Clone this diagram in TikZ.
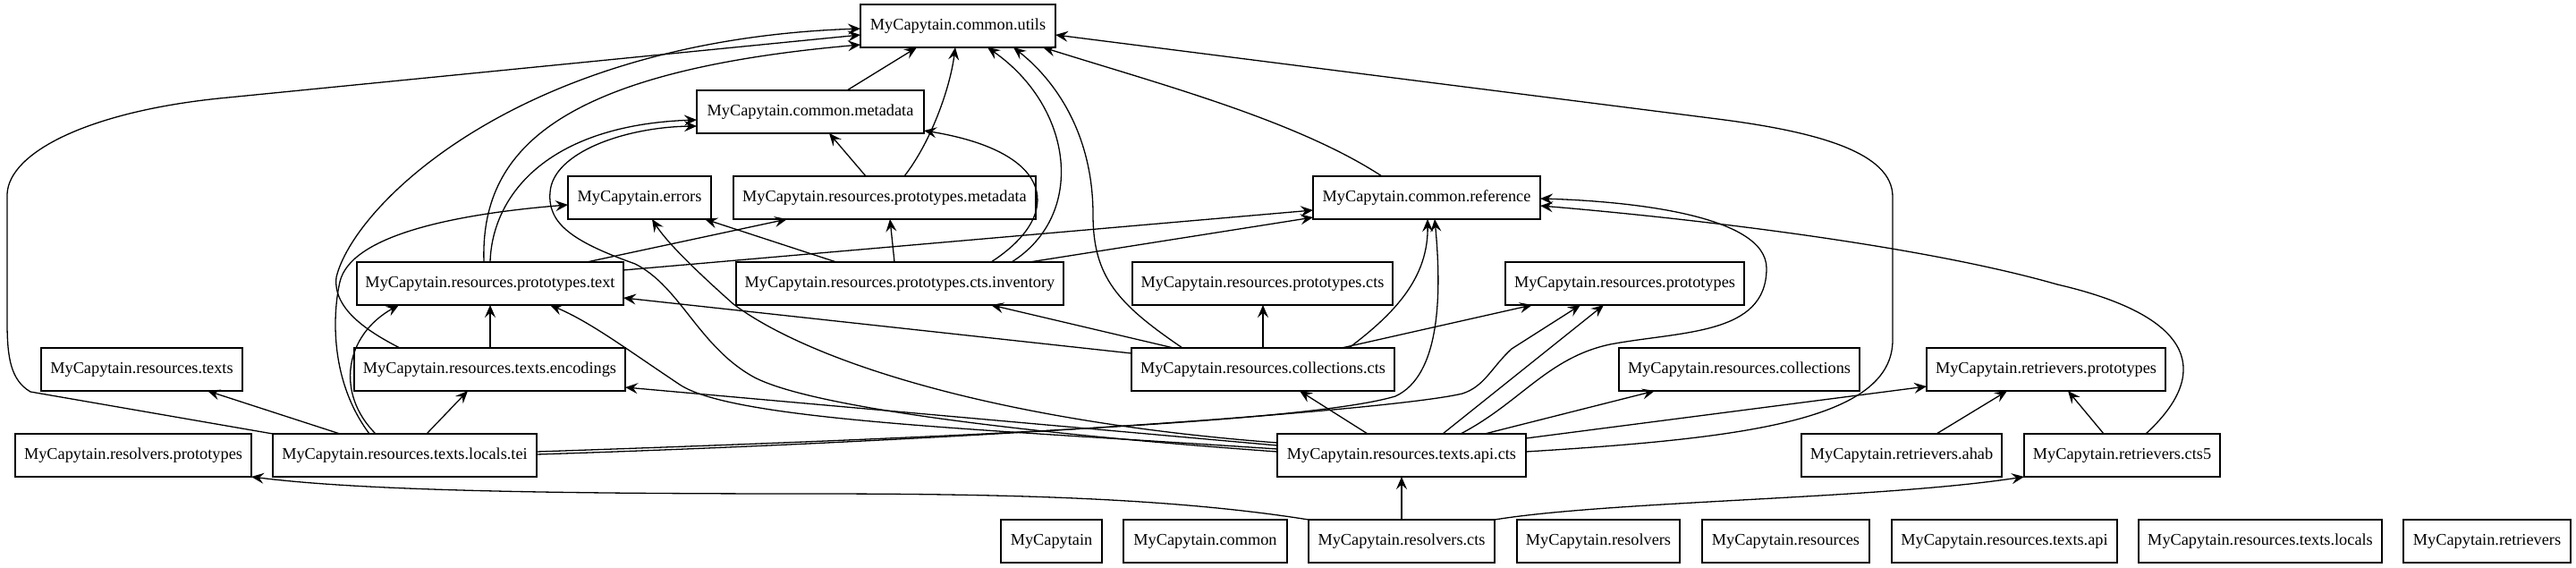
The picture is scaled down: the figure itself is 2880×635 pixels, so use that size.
\documentclass[tikz,border=0pt]{standalone}
\usepackage{fontspec}
\setmainfont{Liberation Serif}
\usetikzlibrary{arrows.meta,calc}
\begin{document}
\begin{tikzpicture}[x=0.5pt,y=-0.5pt,
  nd/.style={draw, line width=0.7pt, minimum width=#1*0.5pt, minimum height=24pt, inner sep=0pt, outer sep=0pt, font=\fontsize{9.15}{11}\selectfont},
  dep/.style={line width=0.65pt, -{Stealth[length=7pt,width=6pt,inset=2.6pt]}}]
\fill[white] (0,0) rectangle (2880,635);
\useasboundingbox (0,0) rectangle (2880,635);
% nodes
\node[nd=218] (utils) at (1071,29) {MyCapytain.common.utils};
\node[nd=254] (metadata) at (906,125) {MyCapytain.common.metadata};
\node[nd=160] (errors) at (715,221) {MyCapytain.errors};
\node[nd=338] (protometa) at (989,221) {MyCapytain.resources.prototypes.metadata};
\node[nd=254] (reference) at (1595,221) {MyCapytain.common.reference};
\node[nd=298] (text) at (548,317) {MyCapytain.resources.prototypes.text};
\node[nd=366] (inventory) at (1006,317) {MyCapytain.resources.prototypes.cts.inventory};
\node[nd=291] (protocts) at (1411.5,317) {MyCapytain.resources.prototypes.cts};
\node[nd=267] (resprot) at (1816.5,317) {MyCapytain.resources.prototypes};
\node[nd=225] (restexts) at (158.5,413) {MyCapytain.resources.texts};
\node[nd=303] (encodings) at (547.5,413) {MyCapytain.resources.texts.encodings};
\node[nd=294] (collcts) at (1412,413) {MyCapytain.resources.collections.cts};
\node[nd=269] (rescoll) at (1944.5,413) {MyCapytain.resources.collections};
\node[nd=267] (retproto) at (2287.5,413) {MyCapytain.retrievers.prototypes};
\node[nd=264] (resolvproto) at (149,509) {MyCapytain.resolvers.prototypes};
\node[nd=295] (tei) at (452.5,509) {MyCapytain.resources.texts.locals.tei};
\node[nd=278] (apicts) at (1567,509) {MyCapytain.resources.texts.api.cts};
\node[nd=224] (ahab) at (2126,509) {MyCapytain.retrievers.ahab};
\node[nd=219] (cts5) at (2372.5,509) {MyCapytain.retrievers.cts5};
\node[nd=113] (mycap) at (1175.5,605) {MyCapytain};
\node[nd=183] (common) at (1347.5,605) {MyCapytain.common};
\node[nd=208] (resolvcts) at (1567,605) {MyCapytain.resolvers.cts};
\node[nd=182] (resolvers) at (1787,605) {MyCapytain.resolvers};
\node[nd=187] (resources) at (1996.5,605) {MyCapytain.resources};
\node[nd=252] (textsapi) at (2241,605) {MyCapytain.resources.texts.api};
\node[nd=272] (textslocals) at (2527,605) {MyCapytain.resources.texts.locals};
\node[nd=187] (retrievers) at (2780.5,605) {MyCapytain.retrievers};
% edges
\draw[dep] ($(metadata.north west)+(168,0)$) -- ($(utils.south west)+(63,0)$);
\draw[dep] ($(protometa.north west)+(191,0)$) .. controls (1040,160) and (1062,100) .. ($(utils.south west)+(106,0)$);
\draw[dep] ($(protometa.north west)+(148,0)$) -- ($(metadata.south west)+(148,0)$);
\draw[dep] ($(inventory.north west)+(308,0)$) .. controls (1215,240) and (1200,120) .. ($(utils.south west)+(142,0)$);
\draw[dep] ($(inventory.north west)+(285,0)$) .. controls (1190,240) and (1180,170) .. ($(metadata.north east)+(0,45)$);
\draw[dep] ($(inventory.north west)+(177,0)$) -- ($(protometa.south west)+(175,0)$);
\draw[dep] ($(inventory.north west)+(112,0)$) -- ($(errors.south west)+(153,0)$);
\draw[dep] ($(inventory.north west)+(328,0)$) -- ($(reference.north west)+(0,46)$);
\draw[dep] ($(reference.north west)+(77,0)$) .. controls (1450,135) and (1300,95) .. ($(utils.south west)+(204,0)$);
\draw[dep] ($(text.north west)+(142,0)$) .. controls (537,170) and (620,80) .. ($(utils.north west)+(0,45)$);
\draw[dep] ($(text.north west)+(149,0)$) .. controls (550,220) and (610,140) .. ($(metadata.north west)+(0,33)$);
\draw[dep] ($(text.north west)+(257,0)$) -- ($(protometa.south west)+(60,0)$);
\draw[dep] ($(text.north east)+(0,9)$) -- ($(reference.north west)+(0,38)$);
\draw[dep] ($(tei.north west)+(108,0)$) .. controls (368,425) and (372,350) .. (380,315) .. controls (392,265) and (500,240) .. ($(errors.north west)+(0,32)$);
\draw[dep] ($(encodings.north west)+(51,0)$) .. controls (410,370) and (372,345) .. (376,310) .. controls (395,230) and (580,45) .. ($(utils.north west)+(0,27)$);
\draw[dep] (tei.north west) -- (34,438) .. controls (12,425) and (8,400) .. (8,360) -- (8,217) .. controls (10,170) and (100,125) .. (245,110) -- ($(utils.north west)+(0,34)$);
\draw[dep] ($(tei.north west)+(115,0)$) .. controls (375,440) and (385,375) .. ($(text.south west)+(47,0)$);
\draw[dep] ($(tei.north west)+(75,0)$) -- ($(restexts.south west)+(186,0)$);
\draw[dep] ($(tei.north west)+(172,0)$) -- ($(encodings.south west)+(127,0)$);
\draw[dep] ($(encodings.north west)+(152,0)$) -- ($(text.south west)+(149,0)$);
\draw[dep] ($(tei.north east)+(0,20)$) .. controls (1100,488) and (1470,470) .. (1560,443) .. controls (1610,420) and (1612,330) .. ($(reference.south west)+(136,0)$);
\draw[dep] ($(tei.north east)+(0,23)$) .. controls (1100,492) and (1560,458) .. (1635,440) .. controls (1660,432) and (1668,410) .. (1690,390) -- ($(resprot.south west)+(84,0)$);
\draw[dep] ($(collcts.north west)+(0,6)$) -- ($(text.north east)+(0,40)$);
\draw[dep] ($(collcts.north west)+(47,0)$) -- ($(inventory.south west)+(285,0)$);
\draw[dep] ($(collcts.north west)+(147,0)$) -- ($(protocts.south west)+(146,0)$);
\draw[dep] ($(collcts.north west)+(235,0)$) -- ($(resprot.south west)+(30,0)$);
\draw[dep] ($(collcts.north west)+(243,0)$) .. controls (1560,350) and (1597,310) .. ($(reference.south west)+(128,0)$);
\draw[dep] ($(collcts.north west)+(57,0)$) .. controls (1250,340) and (1222,310) .. (1222,240) .. controls (1222,150) and (1180,90) .. ($(utils.south west)+(171,0)$);
\draw[dep] ($(apicts.north west)+(101,0)$) -- ($(collcts.south west)+(188,0)$);
\draw[dep] ($(apicts.north west)+(185,0)$) -- ($(resprot.south west)+(110,0)$);
\draw[dep] ($(apicts.north west)+(232,0)$) -- ($(rescoll.south west)+(40,0)$);
\draw[dep] ($(apicts.north west)+(205,0)$) .. controls (1700,450) and (1730,400) .. (1800,385) .. controls (1880,370) and (1975,375) .. (1975,300) .. controls (1975,240) and (1820,225) .. ($(reference.north east)+(0,25)$);
\draw[dep] ($(apicts.north east)+(0,5)$) -- ($(retproto.north west)+(0,43)$);
\draw[dep] ($(apicts.north east)+(0,20)$) .. controls (1950,490) and (2116,470) .. (2116,380) -- (2116,220) .. controls (2116,170) and (2030,147) .. (1920,133) -- ($(utils.north east)+(0,34)$);
\draw[dep] ($(apicts.north west)+(0,17)$) .. controls (1100,480) and (820,470) .. (760,430) .. controls (700,390) and (660,360) .. ($(text.south west)+(216,0)$);
\draw[dep] ($(apicts.north west)+(0,13)$) -- ($(encodings.north east)+(0,44)$);
\draw[dep] ($(apicts.north west)+(0,10)$) .. controls (1100,470) and (900,400) .. (820,340) .. controls (775,300) and (745,270) .. ($(errors.south west)+(94,0)$);
\draw[dep] ($(apicts.north west)+(0,20)$) .. controls (1150,485) and (900,455) .. (840,420) .. controls (780,385) and (760,320) .. (710,295) .. controls (640,270) and (612,250) .. (615,215) .. controls (618,170) and (700,142) .. ($(metadata.north west)+(0,40)$);
\draw[dep] (resolvcts.north) -- (apicts.south);
\draw[dep] (resolvcts.north west) .. controls (1300,555) and (1100,552) .. (900,552) .. controls (600,552) and (400,548) .. (resolvproto.south east);
\draw[dep] (resolvcts.north east) .. controls (1800,560) and (2100,558) .. (cts5.south west);
\draw[dep] ($(ahab.north west)+(151,0)$) -- ($(retproto.south west)+(90,0)$);
\draw[dep] ($(cts5.north west)+(89,0)$) -- ($(retproto.south west)+(158,0)$);
\draw[dep] ($(cts5.north west)+(136,0)$) .. controls (2470,420) and (2460,355) .. (2300,318) .. controls (2150,275) and (1900,245) .. ($(reference.north east)+(0,33)$);
\end{tikzpicture}
\end{document}
